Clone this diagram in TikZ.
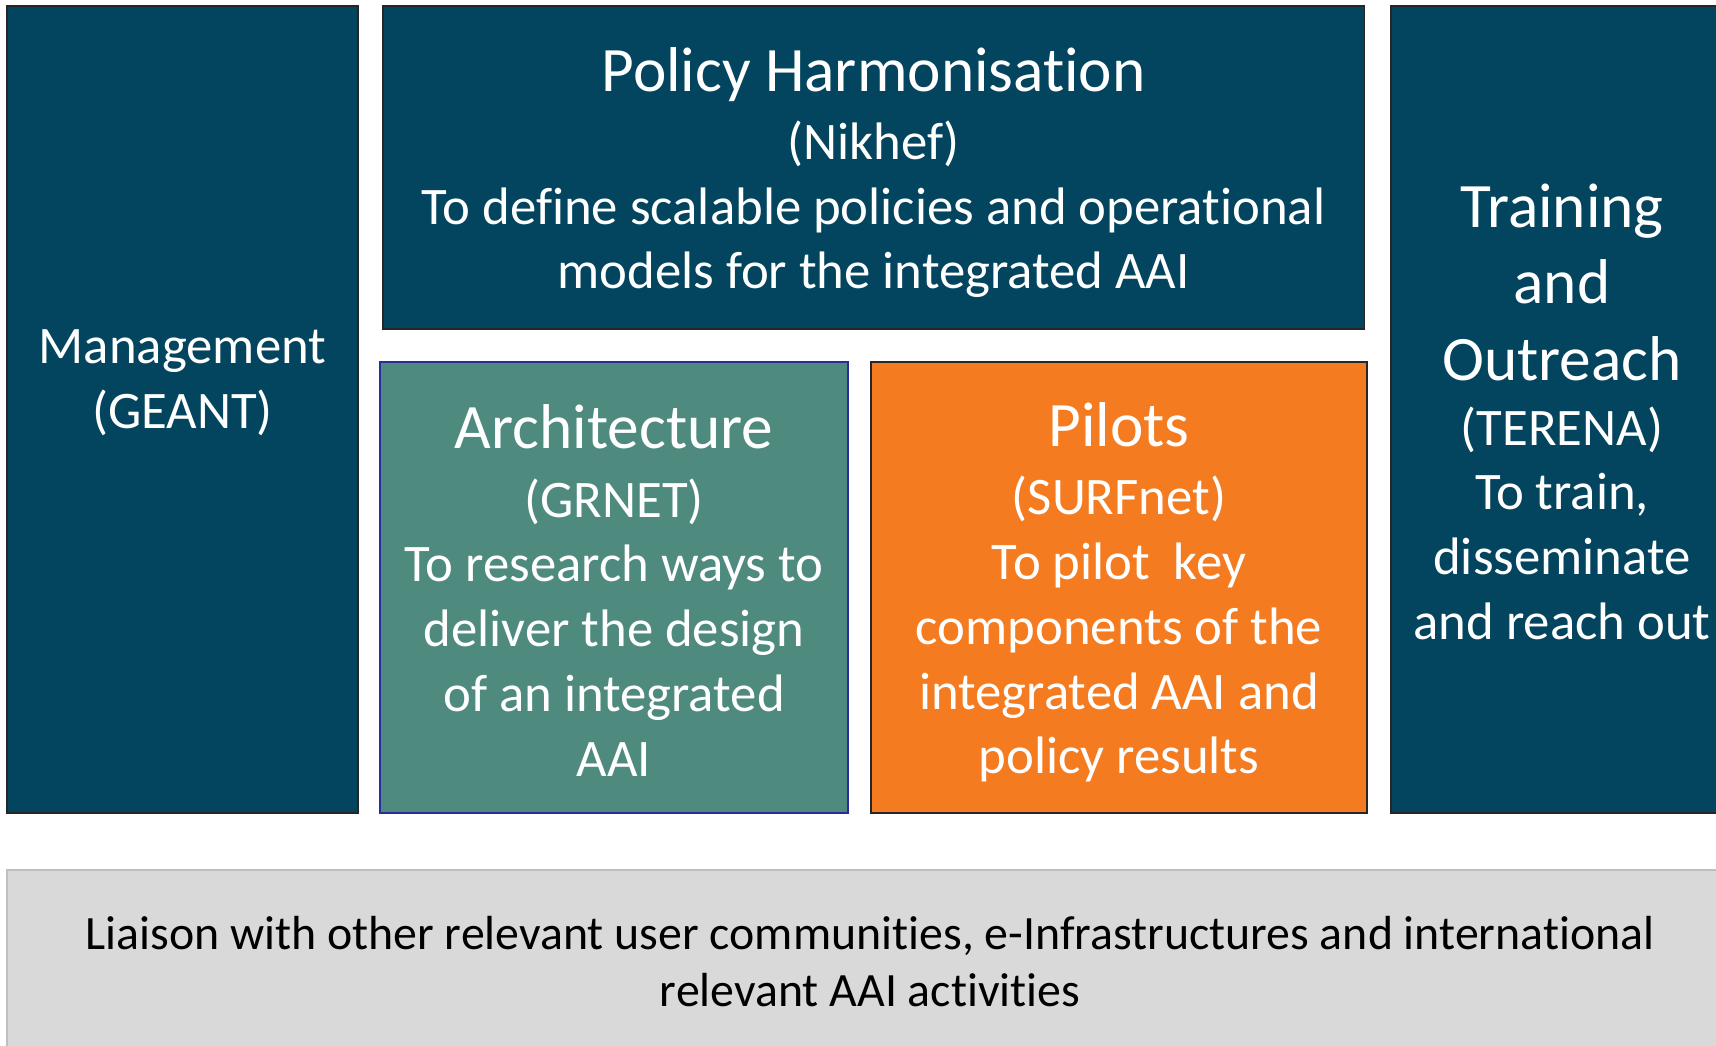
\documentclass[tikz,border=0pt]{standalone}
\usepackage{fontspec}
\setmainfont{Carlito}[RawFeature={-liga;-clig;-dlig;-calt}]
\usepackage{tikz}
\definecolor{wpblue}{HTML}{03455F}
\definecolor{wpteal}{HTML}{4E8B7E}
\definecolor{wporange}{HTML}{F47B20}
\definecolor{wpgrey}{HTML}{D9D9D9}
\definecolor{wpnavy}{HTML}{2B2BA0}
\newcommand{\wptitle}{\fontsize{18}{21.8}\selectfont}
\newcommand{\wpbody}{\fontsize{15}{18.4}\selectfont}

\begin{document}
\begin{tikzpicture}[x=0.01cm,y=-0.01cm,
    box/.style={draw=black!85,line width=0.5pt,fill=wpblue,anchor=north west,inner sep=0pt},
    wptext/.style={text=white,align=center,inner sep=0pt,font=\wpbody}]
\useasboundingbox (0,0) rectangle (1716,1046);
\clip (0,0) rectangle (1716,1046);
% work package boxes
\node[box,minimum width=3.51cm,minimum height=8.07cm] (mgmt) at (6,5) {};
\node[box,minimum width=9.81cm,minimum height=3.23cm] (policy) at (382,5) {};
\node[box,fill=wpteal,draw=wpnavy,minimum width=4.68cm,minimum height=4.51cm] (arch) at (379,361) {};
\node[box,fill=wporange,minimum width=4.96cm,minimum height=4.51cm] (pilots) at (870,361) {};
\node[box,minimum width=3.42cm,minimum height=8.07cm] (training) at (1390,5) {};
\node[box,fill=wpgrey,draw=black!25,minimum width=17.28cm,minimum height=1.86cm] (liaison) at (6,869) {};
% texts
\node[wptext] (mgmttxt) at ([yshift=0.27cm]mgmt.center) {Management\\(GEANT)};
\node[wptext] (policytxt) at ([yshift=-0.05cm]policy.center)
    {\wptitle Policy Harmonisation\\[1pt]\wpbody (Nikhef)\\To define scalable policies and operational\\models for the integrated AAI};
\node[wptext] (archtxt) at ([yshift=-0.03cm]arch.center)
    {\wptitle Architecture\\[1pt]\wpbody (GRNET)\\To research ways to\\deliver the design\\of an integrated\\AAI};
\node[wptext] (pilotstxt) at ([yshift=-0.05cm]pilots.center)
    {\wptitle Pilots\\[1pt]\wpbody (SURFnet)\\To pilot\ \ key\\components of the\\integrated AAI and\\policy results};
\node[wptext] (trainingtxt) at ([yshift=-0.02cm]training.center)
    {\wptitle Training\\[3.4pt]\wptitle and\\[3.4pt]\wptitle Outreach\\\wpbody (TERENA)\\To train,\\disseminate\\and reach out};
\node[wptext,text=black,font=\fontsize{13.6}{16.2}\selectfont] (liaisontxt) at (870,962)
    {Liaison with other relevant user communities, e-Infrastructures and international\\relevant AAI activities};
\end{tikzpicture}
\end{document}
